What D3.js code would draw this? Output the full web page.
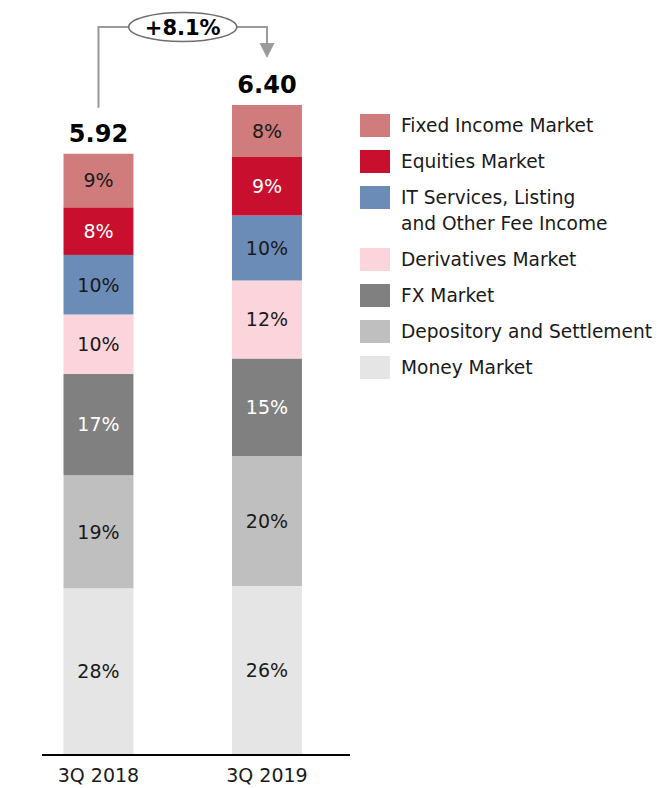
<!DOCTYPE html>
<html>
<head>
<meta charset="utf-8">
<script src="https://cdn.jsdelivr.net/npm/d3@7"></script>
<style>
  html, body { margin: 0; padding: 0; background: #fff; }
  svg { display: block; font-family: "DejaVu Sans", Verdana, sans-serif; }
</style>
</head>
<body>
<svg id="chart" width="657" height="788"></svg>
<script>
// Periods and revenue totals
const periods = ["3Q 2018", "3Q 2019"];
const totals = [5.92, 6.40];
const growthLabel = "+8.1%";

// Segments listed from the bottom of the stack to the top
const segments = [
  "Money Market",
  "Depository and Settlement",
  "FX Market",
  "Derivatives Market",
  "IT Services, Listing and Other Fee Income",
  "Equities Market",
  "Fixed Income Market"
];
const share2018 = [28, 19, 17, 10, 10, 8, 9];
const share2019 = [26, 20, 15, 12, 10, 9, 8];
const shares = [share2018, share2019];

const colors = ["#e5e5e5", "#bfbfbf", "#808080", "#fcd5dc", "#6c8cb8", "#c8102e", "#d07c7c"];
const whiteText = [false, false, true, false, false, true, false];

// Legend order (top to bottom) and wrapped lines
const legendOrder = [6, 5, 4, 3, 2, 1, 0];
const legendLines = {
  4: ["IT Services, Listing", "and Other Fee Income"]
};

const svg = d3.select("#chart");

const x = d3.scaleBand().domain(periods).range([12.95, 352.5]).paddingInner(0.585).paddingOuter(0.3);
const y = d3.scaleLinear().domain([0, 6.40]).range([755, 105]);

// Stack each bar, scaling shares so the segments fill the period total
periods.forEach((p, i) => {
  const sum = d3.sum(shares[i]);
  let base = 0;
  const g = svg.append("g");
  shares[i].forEach((s, k) => {
    const v = totals[i] * s / sum;
    const y0 = y(base), y1 = y(base + v);
    g.append("rect")
      .attr("x", x(p)).attr("width", x.bandwidth())
      .attr("y", y1).attr("height", y0 - y1)
      .attr("fill", colors[k]);
    g.append("text")
      .attr("x", x(p) + x.bandwidth() / 2)
      .attr("y", (y0 + y1) / 2)
      .attr("dy", "0.36em")
      .attr("text-anchor", "middle")
      .attr("font-size", 19)
      .attr("fill", whiteText[k] ? "#fff" : "#1a1a1a")
      .text(s + "%");
    base += v;
  });
  svg.append("text")
    .attr("x", x(p) + x.bandwidth() / 2)
    .attr("y", y(totals[i]) - 12)
    .attr("text-anchor", "middle")
    .attr("font-size", 24)
    .attr("font-weight", "bold")
    .attr("fill", "#000")
    .text(totals[i].toFixed(2));
});

// Category axis
const axis = d3.axisBottom(x).tickSize(0).tickPadding(14);
const ax = svg.append("g").attr("transform", "translate(0,755)").call(axis);
ax.select(".domain").remove();
ax.selectAll("text").attr("font-size", 19).attr("fill", "#1a1a1a")
  .attr("font-family", "\"DejaVu Sans\", Verdana, sans-serif");
svg.append("line").attr("x1", 42).attr("x2", 350).attr("y1", 755).attr("y2", 755)
  .attr("stroke", "#000").attr("stroke-width", 2);

// Growth connector between the two bars
const cx0 = x(periods[0]) + x.bandwidth() / 2;
const cx1 = x(periods[1]) + x.bandwidth() / 2;
const topY = 27;
const ex = (cx0 + cx1) / 2, rx = 54, ry = 14.5;
const grey = "#9a9a9a";
svg.append("path")
  .attr("d", `M${cx0},${y(totals[0]) - 46}V${topY}H${ex - rx}`)
  .attr("fill", "none").attr("stroke", grey).attr("stroke-width", 2);
svg.append("path")
  .attr("d", `M${ex + rx},${topY}H${cx1}V${45}`)
  .attr("fill", "none").attr("stroke", grey).attr("stroke-width", 2);
svg.append("path")
  .attr("d", `M${cx1 - 7.5},${43}L${cx1 + 7.5},${43}L${cx1},${58}Z`)
  .attr("fill", grey);
svg.append("ellipse")
  .attr("cx", ex).attr("cy", topY).attr("rx", rx).attr("ry", ry)
  .attr("fill", "#fff").attr("stroke", "#6e6e6e").attr("stroke-width", 1.5);
svg.append("text")
  .attr("x", ex).attr("y", topY).attr("dy", "0.36em")
  .attr("text-anchor", "middle").attr("font-size", 21).attr("font-weight", "bold")
  .attr("fill", "#000").text(growthLabel);

// Legend
const legend = svg.append("g");
let ly = 114;
legendOrder.forEach(k => {
  const lines = legendLines[k] || [segments[k]];
  legend.append("rect")
    .attr("x", 360).attr("y", ly).attr("width", 30).attr("height", 23)
    .attr("fill", colors[k]);
  lines.forEach((t, j) => {
    legend.append("text")
      .attr("x", 401).attr("y", ly + 11.5 + j * 26).attr("dy", "0.36em")
      .attr("font-size", 18.6).attr("fill", "#1a1a1a").text(t);
  });
  ly += 36 + (lines.length - 1) * 26;
});
</script>
</body>
</html>
